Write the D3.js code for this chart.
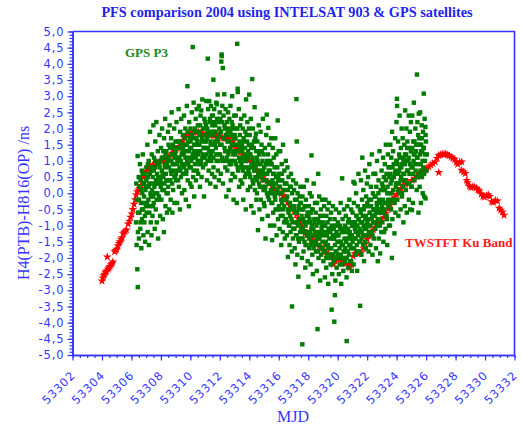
<!DOCTYPE html>
<html>
<head>
<meta charset="utf-8">
<script src="https://cdnjs.cloudflare.com/ajax/libs/d3/7.8.5/d3.min.js"></script>
<style>
  html, body { margin: 0; padding: 0; background: #fff; }
  svg { display: block; }
  .axis .tick text { font-family: "DejaVu Sans", sans-serif; font-size: 11.5px; letter-spacing: 0.9px; fill: #3434ff; }
</style>
</head>
<body>
<div id="chart"></div>
<script>
// Tick values
const xTicks = [53302, 53304, 53306, 53308, 53310, 53312, 53314, 53316, 53318, 53320, 53322, 53324, 53326, 53328, 53330, 53332];
const yTicks = [-5, -4.5, -4, -3.5, -3, -2.5, -2, -1.5, -1, -0.5, 0, 0.5, 1, 1.5, 2, 2.5, 3, 3.5, 4, 4.5, 5];

// TWSTFT Ku band [MJD, ns]
const twstft = [
  [53304.00,-2.71],[53304.06,-2.62],[53304.12,-2.55],[53304.18,-2.50],[53304.24,-2.44],[53304.30,-2.40],[53304.36,-1.97],[53304.42,-2.35],
  [53304.48,-2.30],[53304.55,-2.26],[53304.62,-2.21],[53304.68,-2.17],[53304.74,-2.12],[53304.86,-1.81],[53304.94,-1.77],[53305.00,-1.73],
  [53305.08,-1.62],[53305.16,-1.55],[53305.22,-1.50],[53305.30,-1.42],[53305.36,-1.37],[53305.44,-1.25],[53305.50,-1.20],[53305.58,-1.17],
  [53305.66,-1.13],[53305.78,-0.95],[53305.86,-0.86],[53305.94,-0.74],[53306.02,-0.64],[53306.10,-0.50],[53306.18,-0.34],[53306.26,-0.20],
  [53306.32,-0.05],[53306.40,0.05],[53306.48,0.10],[53306.56,0.15],[53306.66,0.24],[53306.74,0.34],[53306.84,0.49],[53306.92,0.58],
  [53307.00,0.68],[53307.08,0.75],[53307.20,0.80],[53307.32,0.84],[53307.44,0.86],[53307.56,0.89],[53307.68,0.92],[53307.80,0.95],
  [53307.95,0.98],[53308.10,1.00],[53308.25,1.03],[53308.40,1.08],[53308.52,1.12],[53308.64,1.18],[53308.76,1.24],[53308.88,1.32],
  [53309.00,1.35],[53309.12,1.38],[53309.24,1.45],[53309.36,1.56],[53309.48,1.63],[53309.60,1.72],[53309.72,1.79],[53309.84,1.82],
  [53309.96,1.84],[53310.08,1.86],[53310.20,1.88],[53310.32,1.90],[53310.44,1.89],[53310.56,1.89],[53310.70,1.86],[53310.84,1.84],
  [53311.00,1.82],[53311.15,1.80],[53311.30,1.79],[53311.45,1.80],[53311.60,1.78],[53311.75,1.79],[53311.90,1.77],[53312.05,1.74],
  [53312.20,1.71],[53312.35,1.69],[53312.50,1.70],[53312.65,1.73],[53312.78,1.74],[53312.90,1.60],[53313.00,1.48],[53313.12,1.38],
  [53313.24,1.32],[53313.40,1.26],[53313.55,1.20],[53313.70,1.15],[53313.85,1.10],[53314.00,1.02],[53314.15,0.95],[53314.30,0.87],
  [53314.45,0.72],[53314.60,0.63],[53314.75,0.55],[53314.90,0.48],[53315.05,0.42],[53315.20,0.36],[53315.38,0.30],[53315.55,0.22],
  [53315.70,0.14],[53315.85,0.08],[53316.00,0.02],[53316.15,-0.02],[53316.30,-0.06],[53316.45,-0.16],[53316.60,-0.28],[53316.75,-0.38],
  [53316.90,-0.46],[53317.05,-0.56],[53317.20,-0.66],[53317.32,-0.78],[53317.44,-0.89],[53317.56,-1.02],[53317.68,-1.15],[53317.78,-1.24],
  [53317.92,-1.30],[53318.06,-1.36],[53318.20,-1.40],[53318.34,-1.44],[53318.48,-1.50],[53318.62,-1.58],[53318.76,-1.64],[53318.90,-1.71],
  [53319.05,-1.76],[53319.20,-1.82],[53319.35,-1.88],[53319.48,-1.93],[53319.60,-1.97],[53319.70,-2.20],[53319.82,-2.10],[53319.95,-2.06],
  [53320.10,-2.05],[53320.27,-2.07],[53320.40,-2.12],[53320.55,-2.18],[53320.70,-2.24],[53320.82,-2.30],[53320.92,-2.20],[53321.05,-1.95],
  [53321.18,-1.86],[53321.32,-1.85],[53321.46,-1.86],[53321.60,-1.84],[53321.75,-1.71],[53321.88,-1.55],[53322.00,-1.42],[53322.14,-1.32],
  [53322.28,-1.22],[53322.42,-1.13],[53322.56,-1.05],[53322.70,-0.98],[53322.84,-0.92],[53323.00,-0.86],[53323.14,-0.74],[53323.28,-0.62],
  [53323.44,-0.49],[53323.58,-0.36],[53323.72,-0.24],[53323.86,-0.12],[53324.00,-0.04],[53324.14,0.05],[53324.30,0.15],[53324.46,0.25],
  [53324.60,0.28],[53324.82,0.31],[53325.04,0.40],[53325.20,0.45],[53325.36,0.52],[53325.50,0.57],[53325.62,0.61],[53325.76,0.66],
  [53325.90,0.71],[53326.04,0.77],[53326.18,0.81],[53326.32,0.87],[53326.46,0.92],[53326.62,0.97],[53326.74,1.08],[53326.86,1.17],
  [53326.86,0.64],[53326.98,1.19],[53327.10,1.21],[53327.22,1.20],[53327.34,1.22],[53327.46,1.18],[53327.58,1.16],[53327.70,1.12],
  [53327.82,1.08],[53327.94,1.05],[53328.06,0.96],[53328.14,0.90],[53328.28,0.96],[53328.42,0.97],[53328.40,0.71],[53328.54,0.66],
  [53328.66,0.61],[53328.76,0.40],[53328.82,0.33],[53328.94,0.22],[53329.04,0.18],[53329.16,0.20],[53329.28,0.19],[53329.40,0.16],
  [53329.52,0.10],[53329.62,0.07],[53329.74,-0.02],[53329.86,-0.09],[53329.96,-0.12],[53330.10,-0.08],[53330.22,-0.05],[53330.32,-0.10],
  [53330.45,-0.26],[53330.56,-0.28],[53330.70,-0.22],[53330.84,-0.24],[53330.96,-0.46],[53331.06,-0.52],[53331.18,-0.58],[53331.29,-0.68]
];

// GPS P3 [MJD, ns], split by period
const gpsA = [
  [53306.31,-0.9],[53306.33,0.3],[53306.35,-1.6],[53306.37,-0.2],[53306.40,-2.35],[53306.42,1.15],[53306.43,-2.9],[53306.44,-1.2],[53306.46,-0.6],[53306.49,0.5],
  [53306.51,-1.4],[53306.53,0.2],[53306.55,-0.6],[53306.58,0.9],[53306.60,-1.1],[53306.62,0.4],[53306.65,-0.3],[53306.67,-1.7],[53306.70,0.7],[53306.72,-0.8],[53306.74,0.0],
  [53306.77,1.2],[53306.79,-0.5],[53306.81,-1.3],[53306.84,0.3],[53306.86,-0.1],[53306.88,-0.9],[53306.91,0.6],[53306.93,-1.5],[53306.95,0.1],[53306.98,-0.4],
  [53307.01,0.8],[53307.03,-0.6],[53307.05,0.2],[53307.08,1.5],[53307.10,-1.2],[53307.12,0.5],[53307.15,-0.2],[53307.17,1.0],[53307.19,-1.6],[53307.22,0.3],[53307.24,-0.4],
  [53307.26,1.9],[53307.29,0.0],[53307.31,-0.9],[53307.33,0.7],[53307.36,-1.3],[53307.38,1.2],[53307.40,0.1],[53307.43,-0.7],[53307.45,0.5],[53307.47,-0.1],[53307.49,2.1],
  [53307.51,-0.3],[53307.53,1.1],[53307.56,0.2],[53307.58,-1.1],[53307.60,0.8],[53307.62,1.6],[53307.65,-0.5],[53307.67,0.4],[53307.69,2.2],[53307.72,-0.9],[53307.74,0.6],
  [53307.76,0.0],[53307.79,1.3],[53307.81,-1.4],[53307.83,0.3],[53307.86,0.9],[53307.88,-0.2],[53307.90,1.8],[53307.93,0.5],[53307.95,-0.7],[53307.97,1.0],[53307.99,0.2],
  [53308.01,1.4],[53308.03,-0.2],[53308.06,0.7],[53308.08,2.0],[53308.10,0.1],[53308.13,-0.8],[53308.15,1.1],[53308.17,0.5],[53308.20,-1.2],[53308.22,1.7],[53308.24,0.3],
  [53308.27,0.9],[53308.29,2.3],[53308.31,-0.4],[53308.34,0.6],[53308.36,1.3],[53308.38,0.0],[53308.41,-0.6],[53308.43,1.0],[53308.45,0.4],[53308.48,1.9],
  [53308.50,0.2],[53308.52,1.5],[53308.55,0.8],[53308.57,-0.5],[53308.59,2.1],[53308.62,1.0],[53308.64,0.4],[53308.66,-0.2],[53308.69,1.7],[53308.71,0.6],[53308.73,2.5],
  [53308.76,1.2],[53308.78,-0.6],[53308.80,0.9],[53308.83,0.1],[53308.85,1.4],[53308.87,0.7],[53308.90,2.0],[53308.92,-0.3],[53308.94,1.1],[53308.97,0.5],[53308.99,1.6],
  [53309.01,1.3],[53309.03,0.4],[53309.06,2.2],[53309.08,0.9],[53309.10,-0.3],[53309.13,1.6],[53309.15,0.7],[53309.17,1.1],[53309.20,2.6],[53309.22,0.2],[53309.24,1.4],
  [53309.27,0.8],[53309.29,-0.5],[53309.31,1.9],[53309.34,1.0],[53309.36,0.5],[53309.38,2.3],[53309.41,1.2],[53309.43,0.0],[53309.45,1.5],[53309.48,0.6],
  [53309.50,1.8],[53309.52,0.6],[53309.55,1.2],[53309.57,2.4],[53309.59,0.1],[53309.62,1.5],[53309.64,0.9],[53309.66,2.0],[53309.69,-0.2],[53309.71,1.3],[53309.73,0.7],
  [53309.76,2.7],[53309.78,1.0],[53309.80,3.31],[53309.82,0.4],[53309.85,1.6],[53309.87,1.1],[53309.90,-0.4],[53309.92,2.2],[53309.94,0.8],[53309.97,1.4],[53309.99,0.3],
  [53310.01,2.0],[53310.03,0.8],[53310.06,1.4],[53310.08,0.2],[53310.10,2.5],[53310.13,1.1],[53310.16,4.52],[53310.17,1.7],[53310.19,0.5],[53310.22,2.8],[53310.24,1.3],
  [53310.26,-0.1],[53310.29,1.9],[53310.31,0.9],[53310.33,1.5],[53310.36,2.3],[53310.38,0.4],[53310.40,1.2],[53310.43,2.6],[53310.45,0.7],[53310.47,1.6],[53310.49,1.0],
  [53310.51,2.1],[53310.53,0.6],[53310.56,1.5],[53310.58,2.7],[53310.60,0.9],[53310.62,1.8],[53310.65,0.2],[53310.67,1.3],[53310.69,2.4],[53310.72,1.0],[53310.74,2.56],
  [53310.76,0.5],[53310.79,1.7],[53310.81,2.9],[53310.83,1.2],[53310.86,0.8],[53310.88,2.0],[53310.90,1.4],[53310.93,-0.1],[53310.95,2.3],[53310.97,1.1],[53310.99,1.6]
];
const gpsB = [
  [53311.01,2.2],[53311.03,0.9],[53311.06,1.6],[53311.08,2.85],[53311.10,1.2],[53311.13,0.4],[53311.15,2.0],[53311.18,4.16],[53311.19,1.4],[53311.21,2.6],[53311.24,0.7],
  [53311.26,1.8],[53311.28,2.85],[53311.31,1.1],[53311.33,2.3],[53311.35,0.3],[53311.38,1.5],[53311.40,2.7],[53311.42,1.0],[53311.45,1.9],[53311.47,0.6],[53311.49,2.1],
  [53311.51,1.3],[53311.53,2.4],[53311.56,3.51],[53311.57,0.8],[53311.59,1.9],[53311.62,2.6],[53311.64,0.5],[53311.66,1.6],[53311.69,2.1],[53311.71,0.2],[53311.73,1.4],
  [53311.76,2.8],[53311.78,1.0],[53311.80,2.75],[53311.83,1.7],[53311.85,3.05],[53311.87,0.7],[53311.90,2.2],[53311.92,1.2],[53311.94,0.4],[53311.97,1.8],[53311.99,2.5],
  [53312.01,1.5],[53312.03,2.3],[53312.06,0.6],[53312.08,1.9],[53312.10,4.07],[53312.12,4.29],[53312.13,4.24],[53312.15,1.1],[53312.17,2.7],[53312.20,3.87],[53312.21,0.3],
  [53312.23,1.7],[53312.25,2.4],[53312.28,1.0],[53312.30,3.06],[53312.32,1.4],[53312.35,2.0],[53312.37,0.8],[53312.39,2.6],[53312.42,1.3],[53312.44,-0.1],[53312.46,1.8],[53312.49,2.2],
  [53312.51,0.7],[53312.53,1.9],[53312.56,2.5],[53312.58,1.2],[53312.60,0.1],[53312.63,1.6],[53312.65,2.3],[53312.67,0.9],[53312.70,1.4],[53312.72,2.7],[53312.74,0.4],
  [53312.77,1.8],[53312.79,1.0],[53312.81,2.2],[53312.84,3.0],[53312.86,0.6],[53312.88,1.5],[53312.91,2.0],[53312.93,-0.2],[53312.95,1.3],[53312.98,2.4],
  [53313.01,1.8],[53313.03,0.5],[53313.06,1.2],[53313.08,2.4],[53313.10,0.9],[53313.13,1.5],[53313.15,-0.3],[53313.18,4.62],[53313.19,2.0],[53313.21,3.23],[53313.22,3.13],
  [53313.24,0.7],[53313.27,1.3],[53313.29,2.6],[53313.31,0.2],[53313.34,1.6],[53313.36,1.0],[53313.38,2.1],[53313.41,0.4],[53313.43,1.4],[53313.45,2.3],[53313.48,0.8],
  [53313.50,1.5],[53313.52,0.3],[53313.55,2.0],[53313.57,1.1],[53313.59,-0.2],[53313.62,1.7],[53313.64,0.8],[53313.66,2.4],[53313.69,1.2],[53313.71,0.5],[53313.73,1.9],
  [53313.76,-0.5],[53313.78,2.9],[53313.80,1.0],[53313.83,0.6],[53313.85,1.6],[53313.87,2.2],[53313.90,0.1],[53313.92,1.3],[53313.94,0.7],[53313.97,2.0],[53313.99,3.05],
  [53314.01,0.6],[53314.03,1.8],[53314.06,0.2],[53314.08,1.2],[53314.10,2.3],[53314.13,-0.4],[53314.15,0.9],[53314.18,1.5],[53314.20,3.53],[53314.22,0.4],[53314.24,2.0],
  [53314.27,1.0],[53314.29,-0.6],[53314.31,1.4],[53314.34,0.7],[53314.36,2.66],[53314.38,0.1],[53314.41,1.7],[53314.43,0.8],[53314.45,1.84],[53314.48,-0.2],
  [53314.50,1.1],[53314.52,0.0],[53314.55,1.6],[53314.57,0.5],[53314.59,-1.14],[53314.62,0.9],[53314.64,2.1],[53314.66,0.3],[53314.69,-0.5],[53314.71,1.3],[53314.73,0.7],
  [53314.76,1.9],[53314.78,-0.2],[53314.80,0.6],[53314.83,1.5],[53314.85,0.2],[53314.87,-0.8],[53314.90,1.0],[53314.92,2.3],[53314.94,0.4],[53314.97,1.2],[53314.99,-0.3],
  [53315.01,0.8],[53315.03,-0.4],[53315.06,1.4],[53315.08,0.2],[53315.10,-1.4],[53315.13,0.9],[53315.15,1.8],[53315.18,2.43],[53315.20,0.0],[53315.22,0.6],[53315.25,-0.7],
  [53315.27,1.2],[53315.29,2.02],[53315.32,0.3],[53315.34,-0.2],[53315.36,1.5],[53315.39,0.7],[53315.41,-1.0],[53315.43,1.0],[53315.46,0.1],[53315.48,1.7],
  [53315.50,-0.3],[53315.52,0.9],[53315.55,-1.45],[53315.57,0.4],[53315.59,1.4],[53315.62,-0.6],[53315.64,0.2],[53315.66,1.1],[53315.69,-1.0],[53315.71,0.6],[53315.73,-0.1],
  [53315.76,1.7],[53315.78,-0.5],[53315.80,0.3],[53315.83,1.2],[53315.85,-1.3],[53315.87,0.0],[53315.90,0.8],[53315.93,2.25],[53315.95,-0.8],[53315.97,0.5],[53315.99,1.3]
];
const gpsC = [
  [53316.01,-0.4],[53316.03,0.6],[53316.06,-1.1],[53316.08,0.2],[53316.10,1.3],[53316.13,-0.7],[53316.15,0.0],[53316.17,-1.6],[53316.20,0.9],[53316.22,-0.3],[53316.24,0.4],
  [53316.27,-1.2],[53316.29,1.5],[53316.31,-0.5],[53316.34,0.1],[53316.36,-0.9],[53316.38,0.7],[53316.41,-1.4],[53316.43,0.3],[53316.45,-0.2],[53316.48,1.0],
  [53316.50,-0.8],[53316.52,0.3],[53316.55,-1.3],[53316.57,-0.1],[53316.59,0.8],[53316.62,-1.97],[53316.64,-0.5],[53316.66,0.5],[53316.69,-1.0],[53316.71,-0.3],[53316.73,-1.6],
  [53316.76,0.2],[53316.78,-0.7],[53316.80,-1.2],[53316.83,0.6],[53316.85,-0.4],[53316.88,-1.8],[53316.90,-3.5],[53316.91,0.0],[53316.93,-0.9],[53316.96,-1.4],[53316.98,0.4],
  [53317.01,-1.1],[53317.03,0.1],[53317.06,-0.5],[53317.08,-1.7],[53317.10,-0.2],[53317.13,-2.2],[53317.15,-0.9],[53317.17,0.3],[53317.20,2.91],[53317.21,-1.3],[53317.22,1.6],
  [53317.23,-0.6],[53317.26,-1.9],[53317.28,0.0],[53317.30,-1.0],[53317.33,-2.58],[53317.35,-0.4],[53317.37,-1.5],[53317.40,-0.8],[53317.42,-0.1],[53317.45,-1.2],[53317.47,0.2],
  [53317.50,-0.3],[53317.52,-1.4],[53317.55,-0.7],[53317.57,-2.0],[53317.60,-4.67],[53317.61,-0.1],[53317.63,-1.1],[53317.66,-0.5],[53317.68,-1.8],[53317.70,0.2],[53317.73,-0.9],
  [53317.75,-1.5],[53317.77,-0.4],[53317.80,-2.3],[53317.82,-1.0],[53317.84,-0.2],[53317.87,-1.6],[53317.89,-0.7],[53317.91,0.4],[53317.94,-1.2],[53317.96,-2.1],[53317.98,-0.6],
  [53318.01,-2.89],[53318.02,-1.3],[53318.04,-0.4],[53318.07,-1.7],[53318.09,-0.8],[53318.11,0.0],[53318.14,-1.2],[53318.16,-2.2],[53318.18,-0.6],[53318.21,-1.5],[53318.22,1.17],
  [53318.23,-0.1],[53318.25,-1.0],[53318.28,-1.9],[53318.30,-0.5],[53318.32,-2.5],[53318.35,-1.1],[53318.37,0.3],[53318.42,-0.9],[53318.44,-1.6],[53318.46,-0.3],[53318.49,-1.3],
  [53318.51,-0.6],[53318.53,-1.8],[53318.56,-1.0],[53318.58,-2.4],[53318.60,-0.3],[53318.63,-4.2],[53318.64,-1.4],[53318.68,0.6],[53318.67,-0.8],[53318.70,-2.0],[53318.72,-1.2],
  [53318.74,-0.1],[53318.77,-1.6],[53318.79,-0.9],[53318.81,-2.7],[53318.84,-1.3],[53318.86,-0.5],[53318.88,-1.9],[53318.91,-1.1],[53318.93,-0.2],[53318.96,-1.7],[53318.98,-0.7],
  [53319.01,-0.9],[53319.03,-2.1],[53319.06,-1.3],[53319.08,-0.4],[53319.10,-1.8],[53319.13,-2.6],[53319.15,-1.0],[53319.17,-0.2],[53319.20,-1.5],[53319.22,-2.3],[53319.24,-0.7],
  [53319.27,-1.2],[53319.29,-1.9],[53319.31,-0.5],[53319.34,-1.6],[53319.36,-2.8],[53319.38,-1.1],[53319.41,-0.3],[53319.43,-1.4],[53319.45,-2.0],[53319.48,-0.8],
  [53319.50,-1.2],[53319.52,-2.2],[53319.55,-0.6],[53319.57,-1.7],[53319.59,-3.6],[53319.60,-1.0],[53319.63,-2.5],[53319.65,-1.4],[53319.67,-0.4],[53319.71,-1.9],[53319.73,-1.1],
  [53319.77,-3.97],[53319.78,-2.0],[53319.79,-0.8],[53319.81,-3.15],[53319.82,-1.6],[53319.84,-2.7],[53319.86,-1.3],[53319.88,-0.5],[53319.91,-1.8],[53319.93,-2.3],[53319.96,-1.0],[53319.98,-1.5],
  [53320.01,-0.9],[53320.03,-1.9],[53320.06,-1.3],[53320.08,-2.5],[53320.10,-0.6],[53320.13,-1.7],[53320.15,-2.2],[53320.17,-1.0],[53320.20,-0.3],[53320.22,-1.5],[53320.24,-2.8],
  [53320.27,-1.2],[53320.30,0.46],[53320.31,-2.0],[53320.33,-0.8],[53320.36,-1.6],[53320.38,-2.4],[53320.40,-1.1],[53320.43,-0.5],[53320.45,-1.8],[53320.48,-2.1],
  [53320.51,-1.0],[53320.53,-2.0],[53320.55,-0.7],[53320.58,-1.5],[53320.60,-2.6],[53320.61,-4.57],[53320.63,-1.2],[53320.65,-0.4],[53320.68,-1.8],[53320.70,-1.1],[53320.72,-2.3],
  [53320.75,-0.8],[53320.77,-1.6],[53320.79,-0.2],[53320.82,-1.3],[53320.84,-2.1],[53320.86,-0.9],[53320.89,-1.7],[53320.91,-0.5],[53320.93,-1.4],[53320.96,-2.4],[53320.98,-1.0]
];
const gpsD = [
  [53321.01,-0.6],[53321.03,-1.7],[53321.06,-1.0],[53321.07,0.35],[53321.08,-2.2],[53321.10,-0.3],[53321.13,-1.4],[53321.15,0.3],[53321.18,-0.9],[53321.20,-1.9],[53321.22,-1.2],
  [53321.25,0.0],[53321.27,-0.7],[53321.29,-1.6],[53321.32,-2.4],[53321.34,-1.0],[53321.36,-0.4],[53321.39,-1.3],[53321.41,0.6],[53321.43,-0.8],[53321.46,-1.8],[53321.49,-1.1],
  [53321.51,-0.5],[53321.52,-3.48],[53321.53,-1.5],[53321.56,-0.9],[53321.58,0.4],[53321.60,-1.9],[53321.63,-1.2],[53321.65,-0.2],[53321.67,1.1],[53321.70,-0.7],[53321.72,-1.6],
  [53321.74,0.1],[53321.77,-1.0],[53321.79,-2.1],[53321.81,-0.4],[53321.84,-1.3],[53321.86,0.7],[53321.88,-0.8],[53321.91,-1.7],[53321.93,-0.1],[53321.95,-1.1],[53321.98,0.3],
  [53322.01,-0.3],[53322.03,-1.3],[53322.06,0.5],[53322.08,-0.8],[53322.10,-1.8],[53322.13,-0.2],[53322.15,0.9],[53322.17,-1.0],[53322.20,-0.6],[53322.22,-1.6],[53322.25,0.2],
  [53322.27,-0.4],[53322.29,-1.2],[53322.32,1.2],[53322.34,-0.7],[53322.36,-1.9],[53322.39,0.0],[53322.41,-0.9],[53322.43,0.6],[53322.46,-1.4],[53322.48,-0.5],
  [53322.51,-0.1],[53322.53,-1.1],[53322.55,0.6],[53322.58,-0.6],[53322.60,-1.7],[53322.62,0.2],[53322.65,-0.3],[53322.67,1.0],[53322.70,-1.0],[53322.72,-2.1],[53322.74,-0.5],
  [53322.77,0.4],[53322.79,-1.4],[53322.81,-0.2],[53322.84,1.3],[53322.86,-0.8],[53322.88,-1.86],[53322.91,0.1],[53322.93,-0.6],[53322.96,-1.2],[53322.98,0.7],
  [53323.01,0.3],[53323.03,-0.9],[53323.06,-0.2],[53323.08,1.1],[53323.10,-1.5],[53323.13,0.5],[53323.15,-1.2],[53323.17,-0.5],[53323.20,0.9],[53323.22,0.1],[53323.24,-1.1],
  [53323.27,1.5],[53323.29,-0.3],[53323.31,0.6],[53323.34,-0.8],[53323.36,-1.6],[53323.38,0.2],[53323.41,1.2],[53323.43,-0.4],[53323.45,0.8],[53323.48,-1.0],
  [53323.50,-0.3],[53323.52,0.8],[53323.55,-1.0],[53323.57,1.5],[53323.59,0.3],[53323.62,-0.5],[53323.64,1.1],[53323.66,0.0],[53323.68,-2.0],[53323.69,1.9],[53323.71,-0.8],
  [53323.73,0.5],[53323.76,1.3],[53323.78,-0.2],[53323.80,0.9],[53323.85,-1.24],[53323.87,0.6],[53323.90,1.7],[53323.92,-0.6],[53323.94,0.2],[53323.97,1.0],[53323.99,2.2],
  [53324.01,1.0],[53324.02,2.92],[53324.03,2.7],[53324.05,-0.2],[53324.08,0.6],[53324.10,1.6],[53324.12,-0.7],[53324.15,0.3],[53324.17,1.2],[53324.20,2.4],[53324.22,0.0],
  [53324.24,0.8],[53324.27,-0.5],[53324.29,1.4],[53324.31,0.5],[53324.34,2.0],[53324.36,-0.1],[53324.38,0.9],[53324.41,1.7],[53324.43,0.2],[53324.46,-0.9],[53324.48,1.1],
  [53324.50,0.4],[53324.52,1.5],[53324.55,-0.4],[53324.57,0.9],[53324.58,2.56],[53324.62,0.1],[53324.64,1.2],[53324.66,2.0],[53324.69,-0.6],[53324.71,0.7],[53324.73,1.6],
  [53324.76,0.3],[53324.80,1.0],[53324.82,2.4],[53324.83,-0.2],[53324.85,1.4],[53324.87,0.6],[53324.90,1.9],[53324.92,-0.5],[53324.94,0.9],[53324.97,2.2],[53324.99,0.2],
  [53325.01,1.3],[53325.03,0.2],[53325.04,-0.52],[53325.06,2.4],[53325.08,0.8],[53325.10,-0.3],[53325.13,1.6],[53325.15,1.0],[53325.17,2.8],[53325.20,0.4],[53325.22,1.2],
  [53325.27,2.0],[53325.29,0.7],[53325.32,1.5],[53325.36,0.1],[53325.38,3.67],[53325.39,1.1],[53325.41,2.2],[53325.43,0.5],[53325.46,1.8],[53325.48,-0.6],
  [53325.50,2.46],[53325.51,0.6],[53325.53,1.7],[53325.56,0.2],[53325.58,1.2],[53325.60,2.5],[53325.63,0.9],[53325.65,-0.3],[53325.67,1.5],[53325.70,2.1],[53325.72,0.5],
  [53325.74,1.3],[53325.77,0.0],[53325.79,1.9],[53325.81,0.8],[53325.84,3.08],[53325.85,1.4],[53325.87,-0.1],[53325.90,2.3],[53325.92,1.0],[53325.95,2.05],[53325.96,-0.16],
  [53325.99,1.6],[53326.02,0.7],[53326.05,1.2]
];
// denser core of the GPS cloud
const gpsE = [
  [53306.515,-0.2],[53306.565,0.5],[53306.615,-0.9],[53306.665,0.1],[53306.715,-0.5],[53306.765,0.6],[53306.815,-0.3],[53306.865,0.3],[53306.915,-0.7],[53306.965,0.2],
  [53307.015,0.4],[53307.065,-0.3],[53307.115,0.9],[53307.165,0.2],[53307.215,-0.6],[53307.265,0.6],[53307.315,-0.1],[53307.365,0.8],[53307.415,0.3],[53307.465,-0.4],
  [53307.515,0.7],[53307.565,0.0],[53307.615,1.0],[53307.665,0.3],[53307.715,-0.2],[53307.765,0.9],[53307.815,0.5],[53307.865,-0.1],[53307.915,0.8],[53307.965,0.4],
  [53308.015,0.3],[53308.065,1.1],[53308.115,0.6],[53308.165,1.3],[53308.215,0.1],[53308.265,0.8],[53308.315,1.2],[53308.365,0.4],[53308.415,0.9],[53308.465,0.0],
  [53308.515,1.1],[53308.565,0.4],[53308.615,1.4],[53308.665,0.7],[53308.715,1.0],[53308.765,0.3],[53308.815,1.5],[53308.865,0.9],[53308.915,0.5],[53308.965,1.2],
  [53309.015,0.6],[53309.065,1.4],[53309.115,1.0],[53309.165,0.4],[53309.215,1.6],[53309.265,1.1],[53309.315,0.7],[53309.365,1.5],[53309.415,0.9],[53309.465,1.3],
  [53309.515,1.4],[53309.565,0.8],[53309.615,1.7],[53309.665,1.1],[53309.715,0.6],[53309.765,1.5],[53309.815,1.9],[53309.865,0.9],[53309.915,1.3],[53309.965,1.7],
  [53310.015,1.6],[53310.065,1.0],[53310.115,1.8],[53310.165,1.2],[53310.215,0.7],[53310.265,1.5],[53310.315,2.0],[53310.365,1.1],[53310.415,1.7],[53310.465,1.3],
  [53310.515,1.2],[53310.565,1.9],[53310.615,1.5],[53310.665,2.1],[53310.715,0.9],[53310.765,1.6],[53310.815,1.1],[53310.865,2.0],[53310.915,1.4],[53310.965,1.8],
  [53311.015,1.4],[53311.065,2.1],[53311.115,1.7],[53311.165,1.0],[53311.215,1.9],[53311.265,1.3],[53311.315,2.2],[53311.365,1.6],[53311.415,1.2],[53311.465,2.4],
  [53311.515,1.8],[53311.565,1.1],[53311.615,2.2],[53311.665,1.5],[53311.715,1.9],[53311.765,1.2],[53311.815,2.3],[53311.865,1.6],[53311.915,1.0],[53311.965,2.0],
  [53312.015,1.2],[53312.065,1.9],[53312.115,1.5],[53312.165,2.2],[53312.215,1.0],[53312.265,1.7],[53312.315,2.1],[53312.365,1.3],[53312.415,1.8],[53312.465,1.1],
  [53312.515,1.6],[53312.565,1.0],[53312.615,2.0],[53312.665,1.3],[53312.715,1.9],[53312.765,0.9],[53312.815,1.5],[53312.865,2.1],[53312.915,1.2],[53312.965,1.7],
  [53313.015,1.0],[53313.065,1.7],[53313.115,1.3],[53313.165,2.0],[53313.215,0.8],[53313.265,1.5],[53313.315,1.1],[53313.365,1.8],[53313.415,1.4],[53313.465,0.9],
  [53313.515,1.3],[53313.565,0.7],[53313.615,1.6],[53313.665,1.0],[53313.715,1.4],[53313.765,0.6],[53313.815,1.8],[53313.865,1.1],[53313.915,0.8],[53313.965,1.5],
  [53314.015,1.2],[53314.065,0.5],[53314.115,1.4],[53314.165,0.8],[53314.215,1.1],[53314.265,0.3],[53314.315,1.6],[53314.365,0.9],[53314.415,0.5],[53314.465,1.3],
  [53314.515,0.4],[53314.565,1.0],[53314.615,0.6],[53314.665,1.2],[53314.715,0.2],[53314.765,0.9],[53314.815,0.5],[53314.865,1.3],[53314.915,0.7],[53314.965,0.1],
  [53315.015,0.6],[53315.065,0.1],[53315.115,0.9],[53315.165,0.4],[53315.215,1.0],[53315.265,-0.1],[53315.315,0.7],[53315.365,0.3],[53315.415,0.9],[53315.465,0.0],
  [53315.515,0.3],[53315.565,-0.3],[53315.615,0.6],[53315.665,0.0],[53315.715,0.8],[53315.765,-0.2],[53315.815,0.5],[53315.865,0.1],[53315.915,-0.5],[53315.965,0.4]
];
const gpsF = [
  [53316.015,0.2],[53316.065,-0.5],[53316.115,0.4],[53316.165,-0.2],[53316.215,0.6],[53316.265,-0.7],[53316.315,0.1],[53316.365,-0.4],[53316.415,0.3],[53316.465,-0.8],
  [53316.515,-0.2],[53316.565,-0.9],[53316.615,0.1],[53316.665,-0.6],[53316.715,-1.0],[53316.765,-0.3],[53316.815,0.2],[53316.865,-0.8],[53316.915,-0.5],[53316.965,-1.1],
  [53317.015,-0.4],[53317.065,-1.1],[53317.115,-0.6],[53317.165,-1.3],[53317.215,-0.2],[53317.265,-0.9],[53317.315,-1.4],[53317.365,-0.5],[53317.415,-1.0],[53317.465,-0.3],
  [53317.515,-1.1],[53317.565,-0.5],[53317.615,-1.4],[53317.665,-0.8],[53317.715,-1.2],[53317.765,-0.4],[53317.815,-1.6],[53317.865,-0.9],[53317.915,-1.3],[53317.965,-0.6],
  [53318.015,-0.7],[53318.065,-1.4],[53318.115,-0.9],[53318.165,-1.6],[53318.215,-1.1],[53318.265,-0.5],[53318.315,-1.3],[53318.365,-1.7],[53318.415,-0.8],[53318.465,-1.2],
  [53318.515,-1.5],[53318.565,-0.8],[53318.615,-1.3],[53318.665,-1.8],[53318.715,-0.9],[53318.765,-1.4],[53318.815,-0.7],[53318.865,-1.7],[53318.915,-1.0],[53318.965,-1.5],
  [53319.015,-1.2],[53319.065,-1.8],[53319.115,-1.0],[53319.165,-1.6],[53319.215,-2.0],[53319.265,-1.3],[53319.315,-0.9],[53319.365,-1.7],[53319.415,-1.1],[53319.465,-1.9],
  [53319.515,-1.7],[53319.565,-1.1],[53319.615,-1.9],[53319.665,-1.3],[53319.715,-2.1],[53319.765,-1.4],[53319.815,-1.0],[53319.865,-1.8],[53319.915,-1.2],[53319.965,-2.0],
  [53320.015,-1.3],[53320.065,-2.0],[53320.115,-1.5],[53320.165,-1.1],[53320.215,-1.9],[53320.265,-1.6],[53320.315,-2.2],[53320.365,-1.2],[53320.415,-1.8],[53320.465,-1.4],
  [53320.515,-1.7],[53320.565,-1.1],[53320.615,-2.0],[53320.665,-1.4],[53320.715,-0.9],[53320.765,-1.9],[53320.815,-1.2],[53320.865,-1.6],[53320.915,-2.1],[53320.965,-1.3],
  [53321.015,-1.5],[53321.065,-0.9],[53321.115,-1.7],[53321.165,-1.1],[53321.215,-1.4],[53321.265,-0.7],[53321.315,-1.8],[53321.365,-1.2],[53321.415,-0.8],[53321.465,-1.5],
  [53321.515,-1.2],[53321.565,-0.6],[53321.615,-1.4],[53321.665,-0.9],[53321.715,-1.3],[53321.765,-0.5],[53321.815,-1.1],[53321.865,-1.5],[53321.915,-0.7],[53321.965,-1.0],
  [53322.015,-0.9],[53322.065,-0.4],[53322.115,-1.2],[53322.165,-0.6],[53322.215,-1.0],[53322.265,-0.2],[53322.315,-0.8],[53322.365,-1.3],[53322.415,-0.5],[53322.465,-0.9],
  [53322.515,-0.7],[53322.565,-0.1],[53322.615,-0.9],[53322.665,-0.4],[53322.715,-0.8],[53322.765,0.0],[53322.815,-0.6],[53322.865,-1.0],[53322.915,-0.3],[53322.965,-0.5],
  [53323.015,-0.4],[53323.065,0.2],[53323.115,-0.6],[53323.165,0.1],[53323.215,-0.3],[53323.265,0.4],[53323.315,-0.7],[53323.365,0.0],[53323.415,-0.2],[53323.465,0.5],
  [53323.515,0.0],[53323.565,0.6],[53323.615,-0.2],[53323.665,0.4],[53323.715,0.8],[53323.765,0.1],[53323.815,0.5],[53323.865,-0.3],[53323.915,0.7],[53323.965,0.3],
  [53324.015,0.3],[53324.065,0.9],[53324.115,0.1],[53324.165,0.7],[53324.215,1.1],[53324.265,0.4],[53324.315,0.8],[53324.365,0.0],[53324.415,0.6],[53324.465,1.0],
  [53324.515,0.6],[53324.565,1.2],[53324.615,0.4],[53324.665,1.0],[53324.715,1.4],[53324.765,0.7],[53324.815,1.1],[53324.865,0.3],[53324.915,0.9],[53324.965,1.3],
  [53325.015,0.8],[53325.065,1.4],[53325.115,0.6],[53325.165,1.2],[53325.215,1.6],[53325.265,0.9],[53325.315,1.3],[53325.365,0.5],[53325.415,1.1],[53325.465,1.5],
  [53325.515,0.9],[53325.565,1.5],[53325.615,0.7],[53325.665,1.3],[53325.715,1.7],[53325.765,1.0],[53325.815,1.4],[53325.865,0.6],[53325.915,1.2],[53325.965,1.8]
];
const gps = gpsA.concat(gpsB, gpsC, gpsD, gpsE, gpsF);

// Layout
const width = 521, height = 426;
const blue = "#3434ff";
const x = d3.scaleLinear().domain([53302, 53332]).range([72.5, 514.5]);
const y = d3.scaleLinear().domain([-5, 5]).range([355, 31.5]);

const svg = d3.select("#chart").append("svg")
  .attr("width", width)
  .attr("height", height);

// TWSTFT stars first, GPS squares partly over them
svg.append("g")
  .selectAll("path")
  .data(twstft)
  .join("path")
  .attr("transform", d => `translate(${x(d[0])},${y(d[1])})`)
  .attr("d", d3.symbol().type(d3.symbolStar).size(24))
  .attr("fill", "#ff0000");

const sq = 4.4;
svg.append("g")
  .selectAll("rect")
  .data(gps)
  .join("rect")
  .attr("x", d => x(d[0]) - sq / 2)
  .attr("y", d => y(d[1]) - sq / 2)
  .attr("width", sq)
  .attr("height", sq)
  .attr("fill", "#007d00");

// Axes
const fmt = d => d.toFixed(1).replace(".", ",");
const yMinor = d3.range(-50, 51).map(v => v / 10);
const xMinor = d3.range(53302, 53332.01, 0.5);

svg.append("g").attr("class", "axis")
  .attr("transform", `translate(${x.range()[0]},0)`)
  .call(d3.axisLeft(y).tickValues(yMinor).tickSize(3).tickSizeOuter(0).tickFormat(""));
svg.append("g").attr("class", "axis")
  .attr("transform", `translate(${x.range()[0]},0)`)
  .call(d3.axisLeft(y).tickValues(yTicks).tickSize(5).tickSizeOuter(0).tickPadding(3).tickFormat(fmt));

svg.append("g").attr("class", "axis")
  .attr("transform", `translate(0,${y.range()[0]})`)
  .call(d3.axisBottom(x).tickValues(xMinor).tickSize(3).tickSizeOuter(0).tickFormat(""));
const xAxis = svg.append("g").attr("class", "axis")
  .attr("transform", `translate(0,${y.range()[0]})`)
  .call(d3.axisBottom(x).tickValues(xTicks).tickSize(5.5).tickSizeOuter(0).tickFormat(d => d));

xAxis.selectAll(".tick text")
  .attr("x", 0).attr("y", 0).attr("dy", 0)
  .attr("text-anchor", "end")
  .attr("transform", "translate(3,21) rotate(-45)");

svg.selectAll(".axis line").attr("stroke", blue).attr("stroke-width", 1.2);
svg.selectAll(".axis path.domain").attr("stroke", blue).attr("stroke-width", 1.6);

// Frame top and right
svg.append("path")
  .attr("d", `M${x.range()[0]},${y.range()[1]}H${x.range()[1]}V${y.range()[0]}`)
  .attr("fill", "none")
  .attr("stroke", blue)
  .attr("stroke-width", 1.6);

// Texts
const serif = "'Liberation Serif', 'Times New Roman', serif";
svg.append("text")
  .attr("x", 287).attr("y", 17)
  .attr("text-anchor", "middle")
  .style("font-family", serif)
  .style("font-weight", "bold")
  .style("font-size", "14.3px")
  .attr("fill", "#1f1fee")
  .text("PFS comparison 2004 using INTELSAT 903 & GPS satellites");

svg.append("text")
  .attr("x", 125).attr("y", 57)
  .style("font-family", serif)
  .style("font-weight", "bold")
  .style("font-size", "13px")
  .attr("fill", "#1a8a1a")
  .text("GPS P3");

svg.append("text")
  .attr("x", 405).attr("y", 247)
  .style("font-family", serif)
  .style("font-weight", "bold")
  .style("font-size", "13px")
  .attr("fill", "#ff1a1a")
  .text("TWSTFT Ku Band");

svg.append("text")
  .attr("x", 293).attr("y", 422)
  .attr("text-anchor", "middle")
  .style("font-family", serif)
  .style("font-size", "16px")
  .attr("fill", blue)
  .text("MJD");

svg.append("text")
  .attr("transform", "translate(29,203) rotate(-90)")
  .attr("text-anchor", "middle")
  .style("font-family", serif)
  .style("font-size", "16px")
  .attr("fill", blue)
  .text("H4(PTB)-H816(OP) /ns");
</script>
</body>
</html>
